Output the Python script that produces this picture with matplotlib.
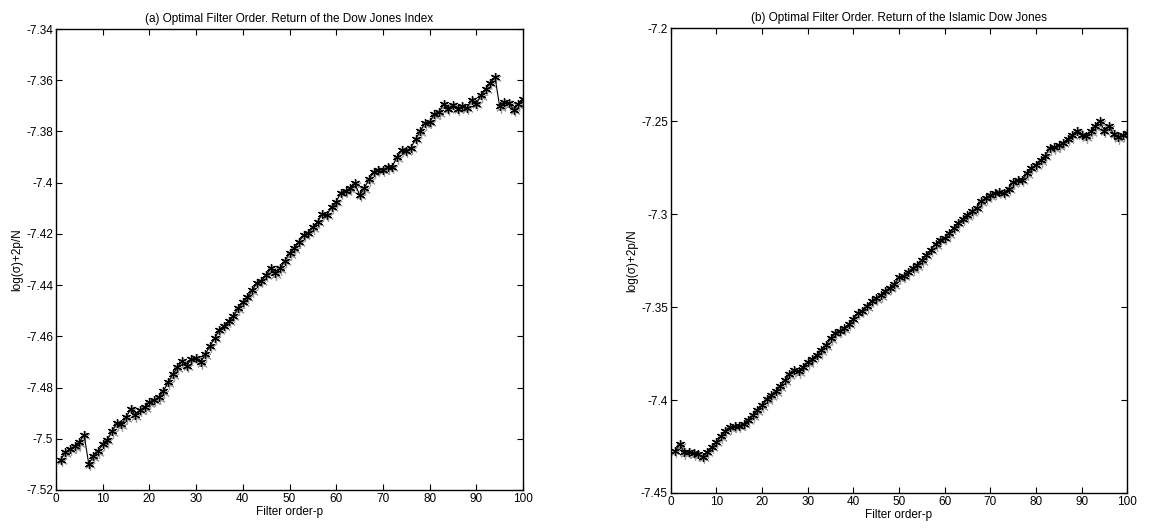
import numpy as np
import matplotlib
matplotlib.use("Agg")
import matplotlib.pyplot as plt
from matplotlib import transforms
from matplotlib.ticker import FuncFormatter

plt.rcParams['font.family'] = ['Liberation Sans', 'DejaVu Sans']
plt.rcParams['font.size'] = 8.5
plt.rcParams['axes.unicode_minus'] = False

order = np.arange(1, 101)

# (a) Dow Jones Index
dji = [
    -7.5081, -7.5052, -7.5039, -7.5030, -7.5013, -7.4984, -7.5097, -7.5069, -7.5048, -7.5019,
    -7.5004, -7.4970, -7.4939, -7.4944, -7.4916, -7.4883, -7.4909, -7.4887, -7.4877, -7.4857,
    -7.4848, -7.4838, -7.4814, -7.4779, -7.4749, -7.4721, -7.4697, -7.4714, -7.4688, -7.4684,
    -7.4701, -7.4669, -7.4636, -7.4606, -7.4575, -7.4558, -7.4540, -7.4520, -7.4490, -7.4464,
    -7.4445, -7.4421, -7.4390, -7.4382, -7.4360, -7.4334, -7.4354, -7.4334, -7.4304, -7.4276,
    -7.4256, -7.4230, -7.4204, -7.4195, -7.4174, -7.4152, -7.4122, -7.4126, -7.4093, -7.4074,
    -7.4039, -7.4031, -7.4022, -7.4002, -7.4048, -7.4022, -7.3987, -7.3957, -7.3950, -7.3950,
    -7.3940, -7.3937, -7.3900, -7.3872, -7.3875, -7.3864, -7.3829, -7.3799, -7.3767, -7.3763,
    -7.3733, -7.3724, -7.3694, -7.3711, -7.3698, -7.3711, -7.3701, -7.3707, -7.3678, -7.3692,
    -7.3659, -7.3633, -7.3610, -7.3587, -7.3702, -7.3685, -7.3689, -7.3715, -7.3694, -7.3672,
]

# (b) Islamic Dow Jones
idj = [
    -7.4273, -7.4238, -7.4282, -7.4279, -7.4286, -7.4291, -7.4304, -7.4279, -7.4250, -7.4225,
    -7.4196, -7.4166, -7.4145, -7.4139, -7.4139, -7.4127, -7.4107, -7.4082, -7.4055, -7.4029,
    -7.3996, -7.3973, -7.3952, -7.3925, -7.3893, -7.3862, -7.3839, -7.3845, -7.3821, -7.3796,
    -7.3778, -7.3755, -7.3732, -7.3705, -7.3667, -7.3638, -7.3626, -7.3613, -7.3590, -7.3563,
    -7.3531, -7.3519, -7.3495, -7.3465, -7.3451, -7.3435, -7.3411, -7.3395, -7.3376, -7.3340,
    -7.3331, -7.3310, -7.3292, -7.3274, -7.3247, -7.3217, -7.3192, -7.3161, -7.3138, -7.3127,
    -7.3102, -7.3072, -7.3045, -7.3024, -7.3006, -7.2985, -7.2965, -7.2930, -7.2911, -7.2897,
    -7.2885, -7.2880, -7.2885, -7.2862, -7.2827, -7.2815, -7.2815, -7.2780, -7.2750, -7.2735,
    -7.2710, -7.2685, -7.2645, -7.2640, -7.2629, -7.2616, -7.2593, -7.2572, -7.2550, -7.2572,
    -7.2581, -7.2554, -7.2527, -7.2500, -7.2550, -7.2527, -7.2568, -7.2586, -7.2572, -7.2563,
]

fig = plt.figure(figsize=(11.55, 5.28), dpi=100)
ax1 = fig.add_axes([0.0485, 0.072, 0.4043, 0.873])
ax2 = fig.add_axes([0.5807, 0.0663, 0.3953, 0.880])

asterisk = (6, 2, 0)


def draw(ax, y, title, ylim, yticks):
    # grey ghost copy slightly offset, like the scanned figure
    shadow = transforms.offset_copy(ax.transData, fig=fig, x=1.0, y=-1.5, units='dots')
    ax.plot(order, y, linestyle='none', marker=asterisk, color='#a0a0a0',
            markersize=7.5, markeredgewidth=0.9, transform=shadow, zorder=2)
    ax.plot(order, y, '-', color='black', linewidth=0.8, marker=asterisk,
            markersize=6.5, markeredgewidth=0.9, zorder=3)
    ax.set_xlim(0, 100)
    ax.set_ylim(*ylim)
    ax.set_xticks(np.arange(0, 101, 10))
    ax.set_yticks(yticks)
    ax.yaxis.set_major_formatter(FuncFormatter(lambda v, p: '%g' % round(v, 4)))
    ax.tick_params(direction='in', top=True, right=True, length=4, width=0.8,
                   labelsize=8.5, pad=2)
    for s in ax.spines.values():
        s.set_linewidth(1.0)
    ax.set_title(title, fontsize=8.5, pad=5)
    ax.set_xlabel('Filter order-p', fontsize=8.5, labelpad=1)


draw(ax1, dji, '(a) Optimal Filter Order. Return of the Dow Jones Index',
     (-7.52, -7.34), np.arange(-7.52, -7.339, 0.02))
draw(ax2, idj, '(b) Optimal Filter Order. Return of the Islamic Dow Jones',
     (-7.45, -7.2), np.arange(-7.45, -7.199, 0.05))

ax1.set_ylabel('log(\u03c3)+2p/N', fontsize=8.5, labelpad=2)
ax2.set_ylabel('log(\u03c3)+2p/N', fontsize=8.5, labelpad=2)

fig.savefig('out.png', dpi=100)
